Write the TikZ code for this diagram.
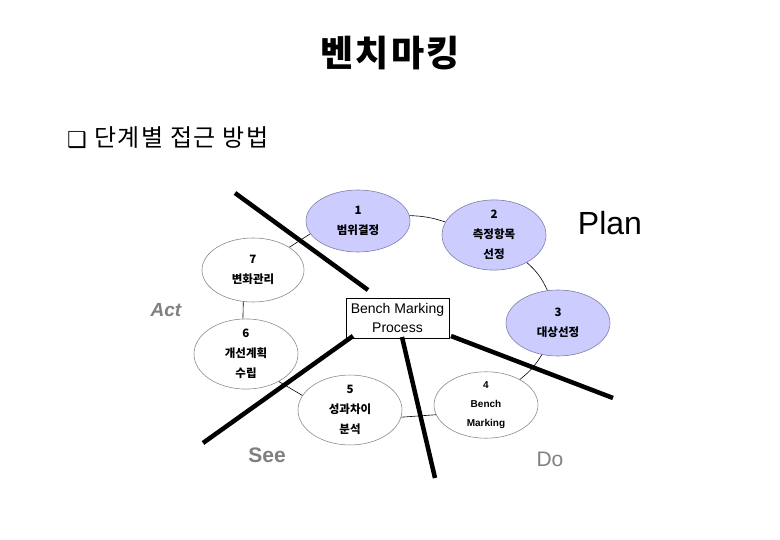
\documentclass[tikz,border=0pt]{standalone}
\usepackage{fontspec}
\setmainfont{Liberation Sans}
\newfontfamily\kr{Noto Sans CJK KR}
\newfontfamily\krwide[LetterSpace=6]{Noto Sans CJK KR}
\newfontfamily\dv{DejaVu Sans}
\usetikzlibrary{shapes.geometric}
\definecolor{lav}{HTML}{CCCCFF}
\definecolor{lavline}{HTML}{8080A8}
\definecolor{ell}{HTML}{8C8C8C}
\definecolor{pdca}{HTML}{808080}
\begin{document}
\begin{tikzpicture}[x=1pt,y=-1pt,
  stage/.style={ellipse, draw=ell, line width=0.6pt, fill=white, minimum width=104pt, minimum height=66pt, inner sep=0pt, align=center, font=\kr\bfseries\fontsize{11.5}{20}\selectfont},
  stagef/.style={stage, fill=lav, draw=lavline},
  link/.style={draw=black, line width=0.6pt},
  divider/.style={draw=black, line width=4.5pt},
  pdcal/.style={text=pdca, inner sep=0pt}
]
\fill[white] (0,0) rectangle (780,540);
\useasboundingbox (0,0) rectangle (780,540);

% titles
\node[inner sep=0pt] (title) at (390,53) {\krwide\bfseries\fontsize{36}{36}\selectfont 벤치마킹};
\node[inner sep=0pt] (bullet) at (77,140) {\dv\fontsize{22}{22}\selectfont ❑};
\node[anchor=west, inner sep=0pt] (sub) at (94,138) {\krwide\fontsize{24}{24}\selectfont 단계별 접근 방법};

% stages
\node[stagef, minimum height=62pt] (e1) at (358,221) {1\\범위결정};
\node[stagef] (e2) at (494,235) {2\\측정항목\\선정};
\node[stagef] (e3) at (558,323) {3\\대상선정};
\node[stage, font=\bfseries\fontsize{10}{19}\selectfont] (e4) at (486,405) {4\\Bench\\Marking};
\node[stage] (e5) at (350,410) {5\\성과차이\\분석};
\node[stage, minimum height=68pt] (e6) at (246,354) {6\\개선계획\\수립};
\node[stage, minimum width=102pt, minimum height=64pt] (e7) at (253,270) {7\\변화관리};

% cycle links
\draw[link] (e1.6) to[bend left=8] (e2.165);
\draw[link] (e2.320) to[bend left=12] (e3.108);
\draw[link] (e3.243) to[bend left=10] (e4.37);
\draw[link] (e4.191) -- (e5.352);
\draw[link] (e5.163) -- (e6.320);
\draw[link] (e6.95) -- (e7.253);
\draw[link] (e7.32) -- (e1.195);

% center box
\node[draw=black, line width=0.8pt, fill=white, minimum width=103pt, minimum height=40pt, inner sep=0pt, align=center, font=\fontsize{14}{19}\selectfont] (box) at (397.5,318) {Bench Marking\\Process};

% dividers
\coordinate (d1a) at (235,193); \coordinate (d1b) at (368,290);
\coordinate (d2a) at (353,336); \coordinate (d2b) at (203,443);
\coordinate (d3a) at (402,337); \coordinate (d3b) at (435,478);
\coordinate (d4a) at (451,336); \coordinate (d4b) at (613,398);
\draw[divider] (d1a) -- (d1b);
\draw[divider] (d2a) -- (d2b);
\draw[divider] (d3a) -- (d3b);
\draw[divider] (d4a) -- (d4b);

% PDCA labels
\node[inner sep=0pt, font=\fontsize{32}{32}\selectfont] (plan) at (610,223) {Plan};
\node[pdcal, font=\bfseries\itshape\fontsize{19}{19}\selectfont] (act) at (166,310) {Act};
\node[pdcal, font=\bfseries\fontsize{21}{21}\selectfont] (see) at (267,455) {See};
\node[pdcal, font=\fontsize{21}{21}\selectfont] (do) at (550,459) {Do};
\end{tikzpicture}
\end{document}
